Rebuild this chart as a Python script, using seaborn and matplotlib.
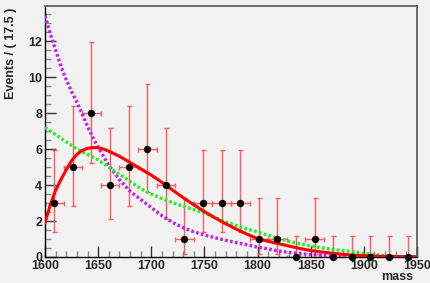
import matplotlib
matplotlib.use("Agg")
import matplotlib.pyplot as plt
from matplotlib.ticker import MultipleLocator
import seaborn as sns
import pandas as pd

# binned data (bin width 17.5) with asymmetric Poisson errors
bin_centers = [1608.75, 1626.25, 1643.75, 1661.25, 1678.75, 1696.25, 1713.75, 1731.25,
               1748.75, 1766.25, 1783.75, 1801.25, 1818.75, 1836.25, 1853.75, 1871.25,
               1888.75, 1906.25, 1923.75, 1941.25]
counts = [3, 5, 8, 4, 5, 6, 4, 1, 3, 3, 3, 1, 1, 0, 1, 0, 0, 0, 0, 0]
err_low = [1.63, 2.16, 2.76, 1.91, 2.16, 2.38, 1.91, 0.83, 1.63, 1.63, 1.63, 0.83, 0.83,
           0.0, 0.83, 0.0, 0.0, 0.0, 0.0, 0.0]
err_high = [2.92, 3.38, 3.94, 3.16, 3.38, 3.62, 3.16, 2.30, 2.92, 2.92, 2.92, 2.30, 2.30,
            1.15, 2.30, 1.15, 1.15, 1.15, 1.15, 1.15]
half_width = 8.75

# full fit (red)
fit_mass = [1600, 1605, 1610, 1615, 1620, 1625, 1630, 1635, 1640, 1645, 1650, 1655, 1660,
            1670, 1680, 1690, 1700, 1710, 1720, 1730, 1740, 1750, 1760, 1770, 1780, 1790,
            1800, 1810, 1820, 1830, 1840, 1850, 1860, 1870, 1880, 1890, 1900, 1910, 1920,
            1935, 1950]
fit_vals = [1.9, 2.9, 3.7, 4.3, 4.85, 5.35, 5.7, 5.92, 6.04, 6.08, 6.07, 6.0, 5.88,
            5.6, 5.25, 4.9, 4.55, 4.15, 3.72, 3.3, 2.9, 2.52, 2.17, 1.85, 1.55, 1.27,
            1.02, 0.87, 0.74, 0.6, 0.47, 0.36, 0.28, 0.21, 0.15, 0.1, 0.07, 0.05, 0.03,
            0.02, 0.01]

# green dotted curve
green_mass = [1600, 1610, 1620, 1630, 1640, 1650, 1660, 1670, 1680, 1690, 1700, 1710, 1720,
              1730, 1740, 1750, 1760, 1770, 1780, 1790, 1800, 1810, 1820, 1830, 1840, 1850,
              1860, 1870, 1880, 1890, 1900, 1910, 1920, 1930, 1940, 1950]
green_vals = [7.2, 6.8, 6.4, 6.0, 5.7, 5.4, 5.0, 4.6, 4.2, 3.8, 3.5, 3.25, 3.02,
              2.82, 2.63, 2.44, 2.2, 1.95, 1.75, 1.55, 1.4, 1.2, 1.03, 0.87, 0.73, 0.61,
              0.51, 0.43, 0.36, 0.29, 0.2, 0.13, 0.07, 0.03, 0.01, 0.0]

# purple dotted curve
purple_mass = [1600, 1605, 1610, 1615, 1620, 1625, 1630, 1635, 1640, 1645, 1650, 1655, 1660,
               1670, 1680, 1690, 1700, 1710, 1720, 1730, 1740, 1750, 1760, 1770, 1780, 1790,
               1800, 1810, 1820, 1830, 1840, 1850, 1860, 1870, 1880, 1900, 1950]
purple_vals = [13.4, 12.4, 11.5, 10.6, 9.85, 9.2, 8.6, 7.95, 7.25, 6.65, 6.1, 5.6, 5.1,
               4.3, 3.65, 3.2, 2.75, 2.3, 1.92, 1.63, 1.4, 1.22, 1.07, 0.93, 0.8, 0.68,
               0.55, 0.45, 0.33, 0.25, 0.19, 0.13, 0.09, 0.06, 0.04, 0.02, 0.0]

points = pd.DataFrame({"mass": bin_centers, "events": counts})

sns.set_theme(style="ticks")
bg = "#f2f2f2"
plt.rcParams["font.family"] = ["Liberation Sans", "DejaVu Sans"]

fig = plt.figure(figsize=(4.31, 2.83), dpi=100, facecolor=bg)
ax = fig.add_axes([0.1044, 0.0919, 0.8631, 0.887])
ax.set_facecolor(bg)

# error bars
ax.errorbar(bin_centers, counts, yerr=[err_low, err_high], xerr=half_width,
            fmt="none", ecolor="#ff5a5a", elinewidth=1.0, capsize=1.8,
            capthick=1.0, zorder=2)

# curves
sns.lineplot(x=purple_mass, y=purple_vals, ax=ax, color="#c020f0", lw=2.4,
             linestyle=(0, (0.8, 0.7)), zorder=3)
sns.lineplot(x=green_mass, y=green_vals, ax=ax, color="#22ee22", lw=2.4,
             linestyle=(0, (0.8, 0.7)), zorder=3)
sns.lineplot(x=fit_mass, y=fit_vals, ax=ax, color="#ff0000", lw=2.2, zorder=3.5)

# data points
sns.scatterplot(data=points, x="mass", y="events", ax=ax, color="black",
                s=28, edgecolor="black", linewidth=0, zorder=5, clip_on=False)

ax.set_xlim(1600, 1950)
ax.set_ylim(0, 13.95)
ax.xaxis.set_major_locator(MultipleLocator(50))
ax.xaxis.set_minor_locator(MultipleLocator(10))
ax.yaxis.set_major_locator(MultipleLocator(2))
ax.yaxis.set_minor_locator(MultipleLocator(0.5))

ax.tick_params(which="major", direction="in", length=8, width=1, color="#333333",
               labelsize=9, top=False, right=False)
ax.tick_params(which="minor", direction="in", length=4, width=1, color="#888888",
               top=False, right=False)
ax.tick_params(axis="x", which="major", pad=2)
ax.tick_params(axis="y", which="major", pad=2)
for lab in ax.get_xticklabels() + ax.get_yticklabels():
    lab.set_fontweight("bold")

for side in ["left", "bottom"]:
    ax.spines[side].set_color("black")
    ax.spines[side].set_linewidth(1.0)
for side in ["top", "right"]:
    ax.spines[side].set_color("#555555")
    ax.spines[side].set_linewidth(1.2)

ax.set_ylabel("Events / ( 17.5 )", fontsize=9, fontweight="bold", loc="top")
ax.yaxis.set_label_coords(-0.075, 0.995)
ax.set_xlabel("mass", fontsize=9, fontweight="bold", loc="right")
ax.xaxis.set_label_coords(0.99, -0.055)

fig.savefig("out.png", dpi=100, facecolor=bg)
